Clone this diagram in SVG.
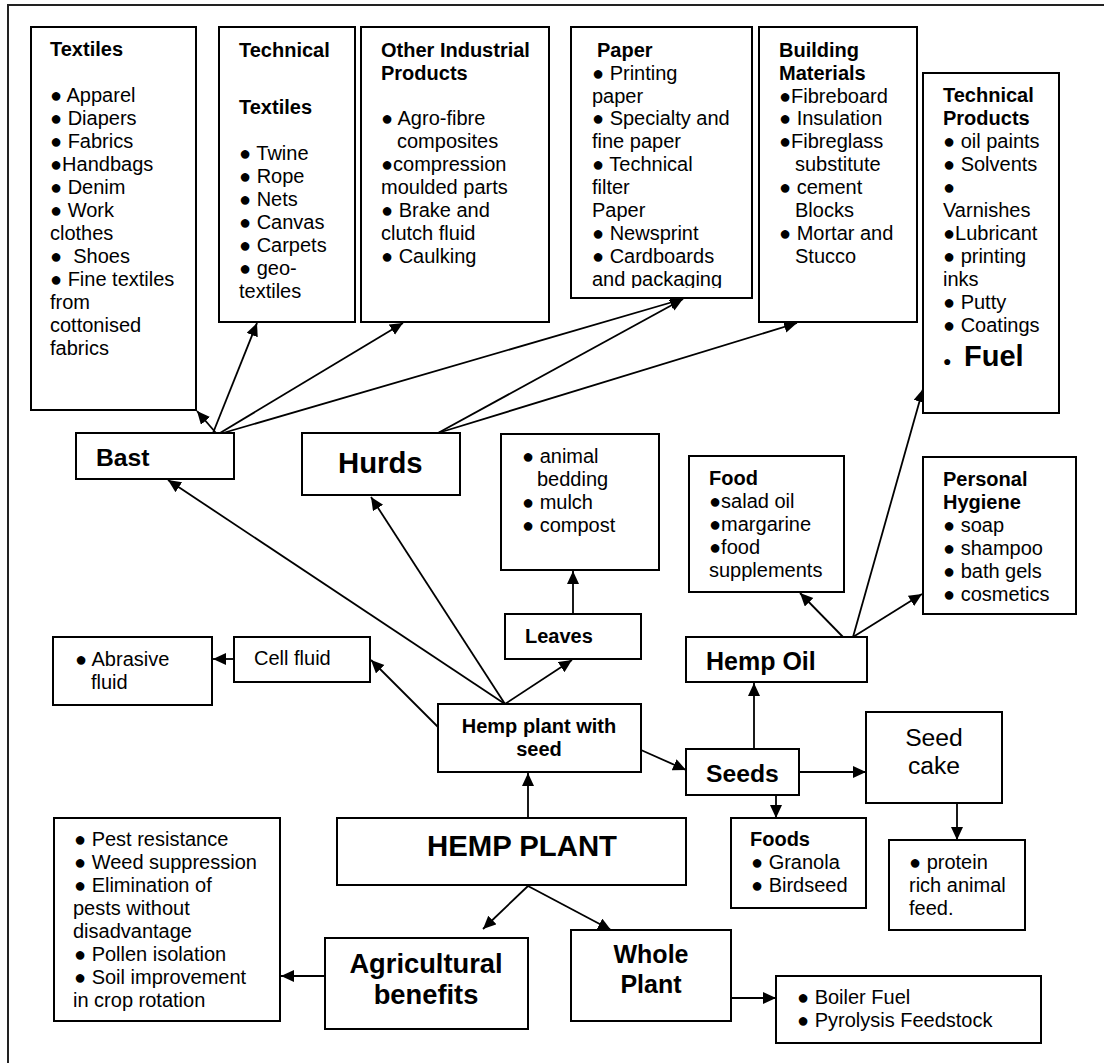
<svg xmlns="http://www.w3.org/2000/svg" width="1104" height="1063" viewBox="0 0 1104 1063">
<style>
.box{fill:#fff;stroke:#000;stroke-width:2}
text{font-family:"Liberation Sans",Arial,sans-serif;font-size:20px;fill:#000}
.b{font-weight:bold}
.f24{font-size:24.7px}
.f25{font-size:25px}
.f27{font-size:27.3px}
.f29{font-size:29.3px}
.con line{stroke:#000;stroke-width:1.8;marker-end:url(#ah)}
</style>
<defs>
<marker id="ah" markerUnits="userSpaceOnUse" markerWidth="14" markerHeight="14" refX="13" refY="6" orient="auto">
<path d="M0,0 L13,6 L0,12 z" fill="#000"/>
</marker>
<clipPath id="paperclip"><rect x="571" y="27" width="181" height="261"/></clipPath>
</defs>
<rect x="8" y="5" width="1110" height="1075" fill="#fff" stroke="#222" stroke-width="2"/>

<g id="connectors" class="con">
<line x1="216" y1="433" x2="197" y2="411"/>
<line x1="213" y1="433" x2="257" y2="323"/>
<line x1="220" y1="433" x2="403" y2="323"/>
<line x1="223" y1="433" x2="683" y2="299"/>
<line x1="438" y1="433" x2="683" y2="299"/>
<line x1="438" y1="433" x2="797" y2="323"/>
<line x1="505" y1="704" x2="168" y2="480"/>
<line x1="505" y1="704" x2="371" y2="497"/>
<line x1="505" y1="704" x2="572" y2="660"/>
<line x1="438" y1="727" x2="371" y2="660"/>
<line x1="234" y1="659" x2="213" y2="659"/>
<line x1="573" y1="614" x2="573" y2="571"/>
<line x1="641" y1="750" x2="686" y2="770"/>
<line x1="754" y1="749" x2="754" y2="683"/>
<line x1="799" y1="772" x2="866" y2="772"/>
<line x1="776" y1="795" x2="776" y2="818"/>
<line x1="957" y1="803" x2="957" y2="840"/>
<line x1="843" y1="637" x2="800" y2="593"/>
<line x1="853" y1="637" x2="923" y2="389"/>
<line x1="853" y1="637" x2="922" y2="594"/>
<line x1="528" y1="818" x2="528" y2="773"/>
<line x1="528" y1="886" x2="483" y2="929"/>
<line x1="528" y1="886" x2="611" y2="930"/>
<line x1="325" y1="976" x2="281" y2="976"/>
<line x1="731" y1="998" x2="776" y2="998"/>
</g>

<g id="textiles">
<rect class="box" x="31" y="27" width="165" height="383"/>
<text class="b" x="50" y="56">Textiles</text>
<text x="50" y="102">● Apparel</text>
<text x="50" y="125">● Diapers</text>
<text x="50" y="148">● Fabrics</text>
<text x="50" y="171">●Handbags</text>
<text x="50" y="194">● Denim</text>
<text x="50" y="217">● Work</text>
<text x="50" y="240">clothes</text>
<text x="50" y="263">●&#160; Shoes</text>
<text x="50" y="286">● Fine textiles</text>
<text x="50" y="309">from</text>
<text x="50" y="332">cottonised</text>
<text x="50" y="355">fabrics</text>
</g>

<g id="technical-textiles">
<rect class="box" x="219" y="27" width="136" height="295"/>
<text class="b" x="239" y="57">Technical</text>
<text class="b" x="239" y="114">Textiles</text>
<text x="239" y="160">● Twine</text>
<text x="239" y="183">● Rope</text>
<text x="239" y="206">● Nets</text>
<text x="239" y="229">● Canvas</text>
<text x="239" y="252">● Carpets</text>
<text x="239" y="275">● geo-</text>
<text x="239" y="298">textiles</text>
</g>

<g id="other-industrial">
<rect class="box" x="361" y="27" width="188" height="295"/>
<text class="b" x="381" y="57">Other Industrial</text>
<text class="b" x="381" y="80">Products</text>
<text x="381" y="125">● Agro-fibre</text>
<text x="397" y="148">composites</text>
<text x="381" y="171">●compression</text>
<text x="381" y="194">moulded parts</text>
<text x="381" y="217">● Brake and</text>
<text x="381" y="240">clutch fluid</text>
<text x="381" y="263">● Caulking</text>
</g>

<g id="paper">
<rect class="box" x="571" y="27" width="181" height="271"/>
<g clip-path="url(#paperclip)">
<text class="b" x="597" y="57">Paper</text>
<text x="592" y="80">● Printing</text>
<text x="592" y="103">paper</text>
<text x="592" y="125">● Specialty and</text>
<text x="592" y="148">fine paper</text>
<text x="592" y="171">● Technical</text>
<text x="592" y="194">filter</text>
<text x="592" y="217">Paper</text>
<text x="592" y="240">● Newsprint</text>
<text x="592" y="263">● Cardboards</text>
<text x="592" y="286">and packaging</text>
</g>
</g>

<g id="building-materials">
<rect class="box" x="759" y="27" width="158" height="295"/>
<text class="b" x="779" y="57">Building</text>
<text class="b" x="779" y="80">Materials</text>
<text x="779" y="103">●Fibreboard</text>
<text x="779" y="125">● Insulation</text>
<text x="779" y="148">●Fibreglass</text>
<text x="795" y="171">substitute</text>
<text x="779" y="194">● cement</text>
<text x="795" y="217">Blocks</text>
<text x="779" y="240">● Mortar and</text>
<text x="795" y="263">Stucco</text>
</g>

<g id="technical-products">
<rect class="box" x="923" y="73" width="136" height="340"/>
<text class="b" x="943" y="101.5">Technical</text>
<text class="b" x="943" y="124.5">Products</text>
<text x="943" y="147.5">● oil paints</text>
<text x="943" y="170.5">● Solvents</text>
<text x="943" y="193.5">●</text>
<text x="943" y="216.5">Varnishes</text>
<text x="943" y="239.5">●Lubricant</text>
<text x="943" y="262.5">● printing</text>
<text x="943" y="285.5">inks</text>
<text x="943" y="308.5">● Putty</text>
<text x="943" y="331.5">● Coatings</text>
<text x="943" y="366"><tspan style="font-size:14px">●</tspan><tspan x="964" class="b" style="font-size:29px">Fuel</tspan></text>
</g>

<g id="bast">
<rect class="box" x="76" y="433" width="158" height="46"/>
<text class="b f24" x="96" y="466">Bast</text>
</g>

<g id="hurds">
<rect class="box" x="302" y="433" width="158" height="62"/>
<text class="b f29" x="338" y="473">Hurds</text>
</g>

<g id="leaf-uses">
<rect class="box" x="501" y="434" width="158" height="136"/>
<text x="522" y="463">● animal</text>
<text x="537" y="486">bedding</text>
<text x="522" y="509">● mulch</text>
<text x="522" y="532">● compost</text>
</g>

<g id="food">
<rect class="box" x="689" y="456" width="155" height="136"/>
<text class="b" x="709" y="485">Food</text>
<text x="709" y="508">●salad oil</text>
<text x="709" y="531">●margarine</text>
<text x="709" y="554">●food</text>
<text x="709" y="577">supplements</text>
</g>

<g id="personal-hygiene">
<rect class="box" x="923" y="457" width="153" height="157"/>
<text class="b" x="943" y="486">Personal</text>
<text class="b" x="943" y="509">Hygiene</text>
<text x="943" y="532">● soap</text>
<text x="943" y="555">● shampoo</text>
<text x="943" y="578">● bath gels</text>
<text x="943" y="601">● cosmetics</text>
</g>

<g id="abrasive-fluid">
<rect class="box" x="53" y="637" width="159" height="68"/>
<text x="75" y="665.5">● Abrasive</text>
<text x="91" y="688.5">fluid</text>
</g>

<g id="cell-fluid">
<rect class="box" x="234" y="637" width="136" height="45"/>
<text x="254" y="665">Cell fluid</text>
</g>

<g id="leaves">
<rect class="box" x="505" y="614" width="136" height="45"/>
<text class="b" x="525" y="643">Leaves</text>
</g>

<g id="hemp-oil">
<rect class="box" x="686" y="637" width="181" height="45"/>
<text class="b f25" x="706" y="670">Hemp Oil</text>
</g>

<g id="hemp-plant-with-seed">
<rect class="box" x="438" y="704" width="203" height="68"/>
<text class="b" x="539" y="733" text-anchor="middle">Hemp plant with</text>
<text class="b" x="539" y="756" text-anchor="middle">seed</text>
</g>

<g id="seeds">
<rect class="box" x="686" y="749" width="113" height="46"/>
<text class="b f24" x="706" y="782">Seeds</text>
</g>

<g id="seed-cake">
<rect class="box" x="866" y="712" width="136" height="91"/>
<text class="f24" x="934" y="746" text-anchor="middle">Seed</text>
<text class="f24" x="934" y="774" text-anchor="middle">cake</text>
</g>

<g id="foods">
<rect class="box" x="731" y="818" width="135" height="90"/>
<text class="b" x="750" y="846">Foods</text>
<text x="751" y="869">● Granola</text>
<text x="751" y="892">● Birdseed</text>
</g>

<g id="animal-feed">
<rect class="box" x="889" y="840" width="136" height="90"/>
<text x="909" y="868.5">● protein</text>
<text x="909" y="891.5">rich animal</text>
<text x="909" y="914.5">feed.</text>
</g>

<g id="hemp-plant">
<rect class="box" x="337" y="818" width="349" height="67"/>
<text class="b f29" x="522" y="856" text-anchor="middle">HEMP PLANT</text>
</g>

<g id="agri-list">
<rect class="box" x="54" y="818" width="226" height="203"/>
<text x="74" y="845.5">● Pest resistance</text>
<text x="74" y="868.5">● Weed suppression</text>
<text x="74" y="891.5">● Elimination of</text>
<text x="73" y="914.5">pests without</text>
<text x="73" y="937.5">disadvantage</text>
<text x="74" y="960.5">● Pollen isolation</text>
<text x="74" y="983.5">● Soil improvement</text>
<text x="73" y="1006.5">in crop rotation</text>
</g>

<g id="agricultural-benefits">
<rect class="box" x="325" y="938" width="203" height="91"/>
<text class="b f27" x="426" y="973" text-anchor="middle">Agricultural</text>
<text class="b f27" x="426" y="1004" text-anchor="middle">benefits</text>
</g>

<g id="whole-plant">
<rect class="box" x="571" y="930" width="160" height="91"/>
<text class="b f25" x="651" y="963" text-anchor="middle">Whole</text>
<text class="b f25" x="651" y="993" text-anchor="middle">Plant</text>
</g>

<g id="fuel-uses">
<rect class="box" x="776" y="976" width="265" height="67"/>
<text x="797" y="1004">● Boiler Fuel</text>
<text x="797" y="1027">● Pyrolysis Feedstock</text>
</g>
</svg>
